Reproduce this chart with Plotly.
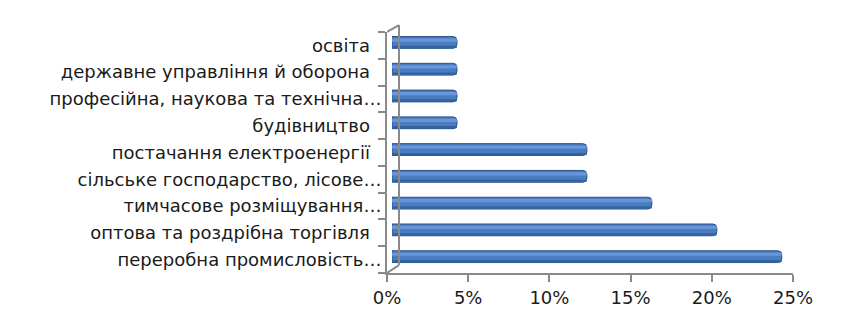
import plotly.graph_objects as go

categories = [
    "переробна промисловість…",
    "оптова та роздрібна торгівля\u00a0\u00a0",
    "тимчасове розміщування…",
    "сільське господарство, лісове…",
    "постачання електроенергії\u00a0\u00a0",
    "будівництво\u00a0\u00a0",
    "професійна, наукова та технічна…",
    "державне управління й оборона\u00a0\u00a0",
    "освіта\u00a0\u00a0",
]
values = [0.24, 0.20, 0.16, 0.12, 0.12, 0.04, 0.04, 0.04, 0.04]
x_ticks = [0, 0.05, 0.10, 0.15, 0.20, 0.25]
x_tick_labels = ["0%", "5%", "10%", "15%", "20%", "25%"]

W, H = 849, 320
L, R, T, B = 387, 51, 32, 45
plot_w = W - L - R
depth = 12
shift = 5

font_family = "DejaVu Sans"
axis_col = "#8a8a8a"
text_col = "#1a1a1a"

fig = go.Figure()
# main cylinder body
fig.add_trace(go.Bar(
    y=categories, x=values, orientation="h",
    xaxis="x2", yaxis="y",
    width=0.44, offset=-0.11,
    marker=dict(color="#4a7cc2", line=dict(color="#29518a", width=1), cornerradius=4),
    hoverinfo="x+y", showlegend=False,
))
# highlight stripe (upper part of cylinder)
fig.add_trace(go.Bar(
    y=categories, x=values, orientation="h",
    xaxis="x2", yaxis="y",
    width=0.12, offset=0.14,
    marker=dict(color="#6896d6", line=dict(width=0), cornerradius=3),
    hoverinfo="skip", showlegend=False,
))
# shadow stripe (lower part of cylinder)
fig.add_trace(go.Bar(
    y=categories, x=values, orientation="h",
    xaxis="x2", yaxis="y",
    width=0.08, offset=-0.095,
    marker=dict(color="#35629f", line=dict(width=0), cornerradius=3),
    hoverinfo="skip", showlegend=False,
))

fig.update_layout(
    width=W, height=H,
    margin=dict(l=L, r=R, t=T, b=B),
    paper_bgcolor="white", plot_bgcolor="white",
    barmode="overlay",
    font=dict(family=font_family, size=18, color=text_col),
    xaxis=dict(
        domain=[0, (plot_w - shift) / plot_w],
        range=[0, 0.25],
        tickvals=x_ticks, ticktext=x_tick_labels,
        showgrid=False, zeroline=False,
        showline=True, linecolor=axis_col, linewidth=2,
        ticks="outside", ticklen=7, tickcolor=axis_col, tickwidth=2,
        tickfont=dict(family=font_family, size=18, color=text_col),
        anchor="y",
        fixedrange=True,
    ),
    xaxis2=dict(
        domain=[shift / plot_w, 1.0],
        range=[0, 0.25],
        visible=False,
        anchor="y",
        fixedrange=True,
    ),
    yaxis=dict(
        type="category",
        categoryorder="array", categoryarray=categories,
        range=[-0.5, len(categories) - 0.5],
        showgrid=False, zeroline=False,
        showline=True, linecolor=axis_col, linewidth=2,
        ticks="outside", ticklen=7, tickcolor=axis_col, tickwidth=2,
        tickson="boundaries",
        tickfont=dict(family=font_family, size=18, color=text_col),
        anchor="x",
        fixedrange=True,
    ),
)

plot_h = H - T - B
# 3D side wall outline
fig.add_shape(type="line", xref="x", xsizemode="pixel", xanchor=0, x0=depth, x1=depth,
              yref="paper", y0=8 / plot_h, y1=1 + 7 / plot_h,
              line=dict(color=axis_col, width=2))
fig.add_shape(type="line", xref="x", xsizemode="pixel", xanchor=0, x0=0, x1=depth,
              yref="paper", y0=1, y1=1 + 7 / plot_h,
              line=dict(color=axis_col, width=2))
fig.add_shape(type="line", xref="x", xsizemode="pixel", xanchor=0, x0=0, x1=depth,
              yref="paper", y0=0, y1=8 / plot_h,
              line=dict(color=axis_col, width=2))

fig.write_html("out.html")
